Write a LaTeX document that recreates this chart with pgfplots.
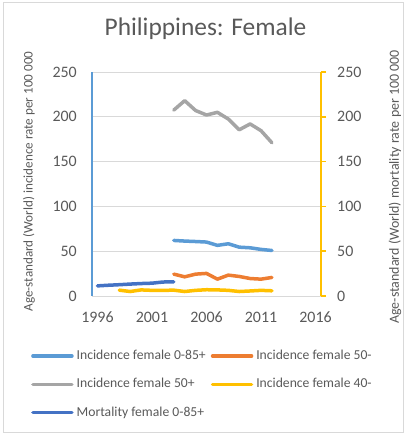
\documentclass[border=0pt]{standalone}
\usepackage{pgfplots}
\pgfplotsset{compat=1.18}
\usepackage{fontspec}
\setmainfont{Carlito}
\definecolor{txt}{HTML}{595959}
\definecolor{grd}{HTML}{D9D9D9}
\definecolor{cA}{HTML}{5B9BD5}
\definecolor{cB}{HTML}{ED7D31}
\definecolor{cC}{HTML}{A5A5A5}
\definecolor{cD}{HTML}{FFC000}
\definecolor{cE}{HTML}{4472C4}
\begin{document}
\begin{tikzpicture}[x=1bp,y=1bp]
\useasboundingbox (0,0) rectangle (406,435);
\draw[grd, line width=0.8bp] (3,2.5) rectangle (403,432.5);
\begin{axis}[
  at={(92bp,139bp)}, anchor=south west,
  scale only axis, width=229bp, height=224bp,
  xmin=1995.5, xmax=2016.5, ymin=0, ymax=250,
  axis y line*=left, axis x line*=bottom,
  x axis line style={draw=grd, line width=0.8bp, -},
  y axis line style={draw=cA, line width=2.5bp, -},
  xtick={1996,2001,2006,2011,2016},
  ytick={0,50,100,150,200,250},
  major tick length=0pt,
  ymajorgrids, grid style={grd, line width=0.8bp},
  /pgf/number format/assume math mode=true,
  /pgf/number format/1000 sep={},
  ticklabel style={font=\fontsize{16}{18}\selectfont, text=txt, inner sep=0pt},
  yticklabel style={anchor=east, xshift=-15bp},
  xticklabel style={anchor=north, yshift=-16bp},
  title={Philippines: Female},
  title style={at={(axis description cs:0.4956,1.134)}, anchor=base, font=\fontsize{25.5}{30}\selectfont, text=txt},
  ylabel={Age-standard (World) incidence rate per 100 000},
  ylabel style={at={(axis description cs:-0.275,0.511)}, anchor=center, rotate=0, font=\fontsize{13.2}{15}\selectfont, text=txt},
  legend columns=2,
  legend cell align=left,
  legend style={at={(axis description cs:-0.2664,-0.238)}, anchor=north west, draw=none, fill=none, inner sep=0pt,
    font=\fontsize{13.7}{16}\selectfont, text=txt,
    nodes={inner sep=0pt, text height=10bp, text depth=3bp},
    row sep=15.3bp,
    /tikz/every odd column/.style={column sep=3bp},
    /tikz/every even column/.style={column sep=5bp}},
  legend image code/.code={\draw[#1, line width=3.5bp] (0bp,0bp) -- (39bp,0bp);},
  every axis plot/.append style={line width=3.5bp, line join=round, line cap=round, mark=none},
]
\addplot[cA] coordinates {(2003,62) (2004,61.3) (2005,60.8) (2006,60.2) (2007,56.5) (2008,58.3) (2009,54.5) (2010,53.8) (2011,52) (2012,50.8)};
\addlegendentry{Incidence female 0-85+}
\addplot[cB] coordinates {(2003,24.4) (2004,21.4) (2005,24.4) (2006,25.2) (2007,18.8) (2008,23.3) (2009,21.8) (2010,19.5) (2011,18.8) (2012,20.7)};
\addlegendentry{Incidence female 50-}
\addplot[cC] coordinates {(2003,207.5) (2004,218) (2005,207) (2006,202) (2007,205) (2008,197.5) (2009,185.5) (2010,192) (2011,184.5) (2012,171)};
\addlegendentry{Incidence female 50+}
\addplot[cD] coordinates {(1998,6.5) (1999,5) (2000,6.8) (2001,6.3) (2002,6.3) (2003,6.5) (2004,5) (2005,6.3) (2006,7) (2007,6.8) (2008,6.3) (2009,5) (2010,5.6) (2011,6.3) (2012,5.8)};
\addlegendentry{Incidence female 40-}
\addplot[cE] coordinates {(1996,11.3) (1997,12) (1998,12.6) (1999,13.3) (2000,13.9) (2001,14.3) (2002,15.6) (2003,15.8)};
\addlegendentry{Mortality female 0-85+}
\end{axis}
\begin{axis}[
  at={(92bp,139bp)}, anchor=south west,
  scale only axis, width=229bp, height=224bp,
  xmin=1995.5, xmax=2016.5, ymin=0, ymax=250,
  axis x line=none, axis y line*=right,
  y axis line style={draw=cD, line width=2.5bp, -},
  ytick={0,50,100,150,200,250},
  tick align=outside, major tick length=5bp,
  ytick style={draw=cD, line width=1.5bp},
  /pgf/number format/assume math mode=true,
  yticklabel style={font=\fontsize{16}{18}\selectfont, text=txt, inner sep=0pt, anchor=west, xshift=11bp},
  ylabel={Age-standard (World) mortality rate per 100 000},
  ylabel style={at={(axis description cs:1.323,0.487)}, anchor=center, rotate=0, font=\fontsize{14}{16}\selectfont, text=txt},
]
\end{axis}
\end{tikzpicture}
\end{document}
